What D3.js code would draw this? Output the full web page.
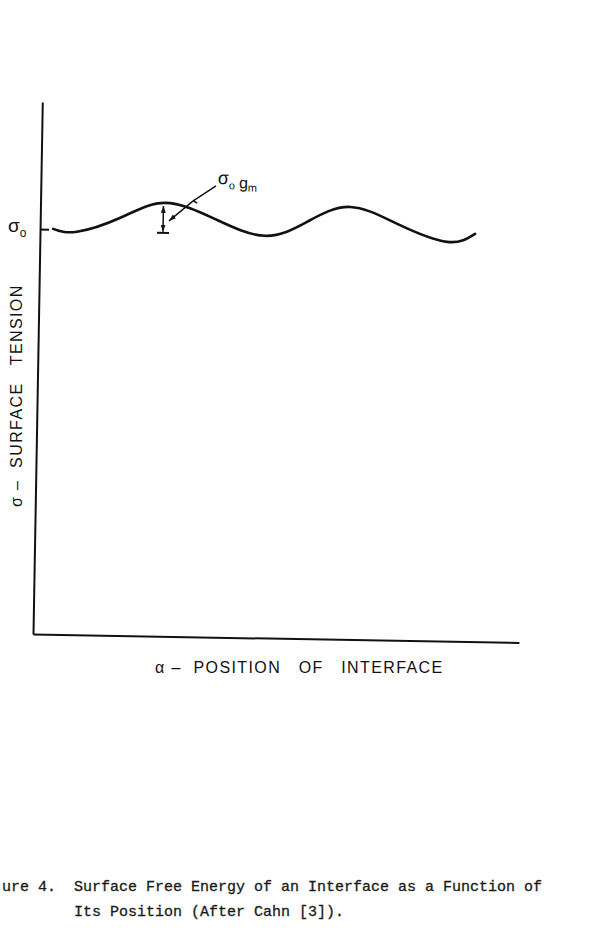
<!DOCTYPE html>
<html>
<head>
<meta charset="utf-8">
<style>
  body { margin: 0; background: #fff; }
  svg { display: block; }
  .lettering { font-family: "Liberation Sans", Arial, sans-serif; fill: #111; }
  .axis-title { font-size: 16px; letter-spacing: 1.4px; white-space: pre; }
  .caption {
    font-family: "Liberation Mono", "Courier New", monospace;
    font-size: 15px;
    fill: #1a1a1a;
    stroke: #1a1a1a;
    stroke-width: 0.3;
    white-space: pre;
  }
  .axis path, .axis line { stroke: #111; stroke-width: 2; }
</style>
</head>
<body>
<script src="https://cdn.jsdelivr.net/npm/d3@7"></script>
<script>

// sigma(alpha): position along the axis (0-100), sigma / sigma0
var positions = [2.7, 7.6, 16.6, 25.6, 36.0, 46.3, 55.0, 63.7, 73.7, 83.8, 89.5];
var tension   = [1.001, 0.995, 1.032, 1.070, 1.032, 0.993, 1.030, 1.068, 1.027, 0.986, 1.007];

var sigma0 = 1;
// the sigma0*gm dimension arrow under the first hump
var gmPos = 25.3;
var gmTop = 1.0625;
var gmBottom = 0.996;
// leader from the label to the arrow
var leaderPos = [36.05, 31.4, 26.5];
var leaderVal = [1.114, 1.076, 1.0256];
var labelPos = 36.4, labelVal = 1.119;

var xTitle = "α –  POSITION   OF   INTERFACE";
var yTitle = "σ –  SURFACE   TENSION";
// the page is cropped at the left, "Fig" is lost
var caption = ["ure 4.  Surface Free Energy of an Interface as a Function of",
               "        Its Position (After Cahn [3])."];

var width = 601, height = 930;
var origin = {x: 33, y: 634};
var plotW = 486, plotH = 532;

var svg = d3.select("body").append("svg")
    .attr("width", width)
    .attr("height", height);

svg.append("defs").append("marker")
    .attr("id", "head")
    .attr("viewBox", "0 0 10 10")
    .attr("refX", 10)
    .attr("refY", 5)
    .attr("markerUnits", "userSpaceOnUse")
    .attr("markerWidth", 7)
    .attr("markerHeight", 7)
    .attr("orient", "auto-start-reverse")
  .append("path")
    .attr("d", "M0,1.5L10,5L0,8.5Z")
    .attr("fill", "#111");

var x = d3.scaleLinear().domain([0, 100]).range([0, plotW]);
var y = d3.scaleLinear().domain([0, plotH / 405]).range([0, -plotH]);

// the drawing sits about one degree off square on the page
var plot = svg.append("g")
    .attr("transform", "translate(" + origin.x + "," + origin.y + ") rotate(1)");

plot.append("g")
    .attr("class", "axis")
    .call(d3.axisBottom(x).tickValues([]).tickSizeOuter(0));

plot.append("g")
    .attr("class", "axis")
    .call(d3.axisLeft(y).tickValues([sigma0]).tickSize(-9).tickSizeOuter(0).tickFormat(function() { return ""; }));

var pts = positions.map(function(p, i) { return [p, tension[i]]; });

var line = d3.line()
    .x(function(d) { return x(d[0]); })
    .y(function(d) { return y(d[1]); })
    .curve(d3.curveNatural);

plot.append("path")
    .datum(pts)
    .attr("d", line)
    .attr("fill", "none")
    .attr("stroke", "#111")
    .attr("stroke-width", 2.6)
    .attr("stroke-linecap", "round");

// dimension arrow
plot.append("line")
    .attr("x1", x(gmPos)).attr("x2", x(gmPos))
    .attr("y1", y(gmTop)).attr("y2", y(gmBottom) - 1)
    .attr("stroke", "#111")
    .attr("stroke-width", 1.5)
    .attr("marker-start", "url(#head)")
    .attr("marker-end", "url(#head)");

plot.append("line")
    .attr("x1", x(gmPos) - 6).attr("x2", x(gmPos) + 6)
    .attr("y1", y(gmBottom)).attr("y2", y(gmBottom))
    .attr("stroke", "#111")
    .attr("stroke-width", 2);

// leader with its little kink
var lp = leaderPos.map(function(p, i) { return [x(p), y(leaderVal[i])]; });
plot.append("path")
    .attr("d", d3.line()(lp))
    .attr("fill", "none")
    .attr("stroke", "#111")
    .attr("stroke-width", 1.5)
    .attr("marker-end", "url(#head)");

var dx = lp[0][0] - lp[2][0], dy = lp[0][1] - lp[2][1];
var len = Math.sqrt(dx * dx + dy * dy);
plot.append("line")
    .attr("x1", lp[1][0]).attr("y1", lp[1][1])
    .attr("x2", lp[1][0] - 4 * dy / len + 2 * dx / len)
    .attr("y2", lp[1][1] + 4 * dx / len + 2 * dy / len)
    .attr("stroke", "#111")
    .attr("stroke-width", 1.5);

var lab = plot.append("text")
    .attr("class", "lettering")
    .attr("x", x(labelPos))
    .attr("y", y(labelVal));
lab.append("tspan").attr("font-size", 18).text("σ");
lab.append("tspan").attr("font-size", 11).attr("dy", 5).text("o");
lab.append("tspan").attr("font-size", 16).attr("dy", -1).attr("dx", 4).text("g");
lab.append("tspan").attr("font-size", 11).attr("dy", 3).text("m");

// sigma0 next to the tick
var s0 = svg.append("text")
    .attr("class", "lettering")
    .attr("x", 8)
    .attr("y", origin.y + y(sigma0) + 3);
s0.append("tspan").attr("font-size", 19).text("σ");
s0.append("tspan").attr("font-size", 12).attr("dy", 5).text("o");

// axis titles
svg.append("text")
    .attr("class", "lettering axis-title")
    .attr("x", 155)
    .attr("y", 673)
    .text(xTitle);

svg.append("text")
    .attr("class", "lettering axis-title")
    .attr("transform", "translate(22,507) rotate(-90)")
    .text(yTitle);

// caption
svg.selectAll(".caption")
    .data(caption)
    .enter()
    .append("text")
    .attr("class", "caption")
    .attr("x", 2)
    .attr("y", function(d, i) { return 891 + i * 25; })
    .text(function(d) { return d; });

</script>
</body>
</html>
